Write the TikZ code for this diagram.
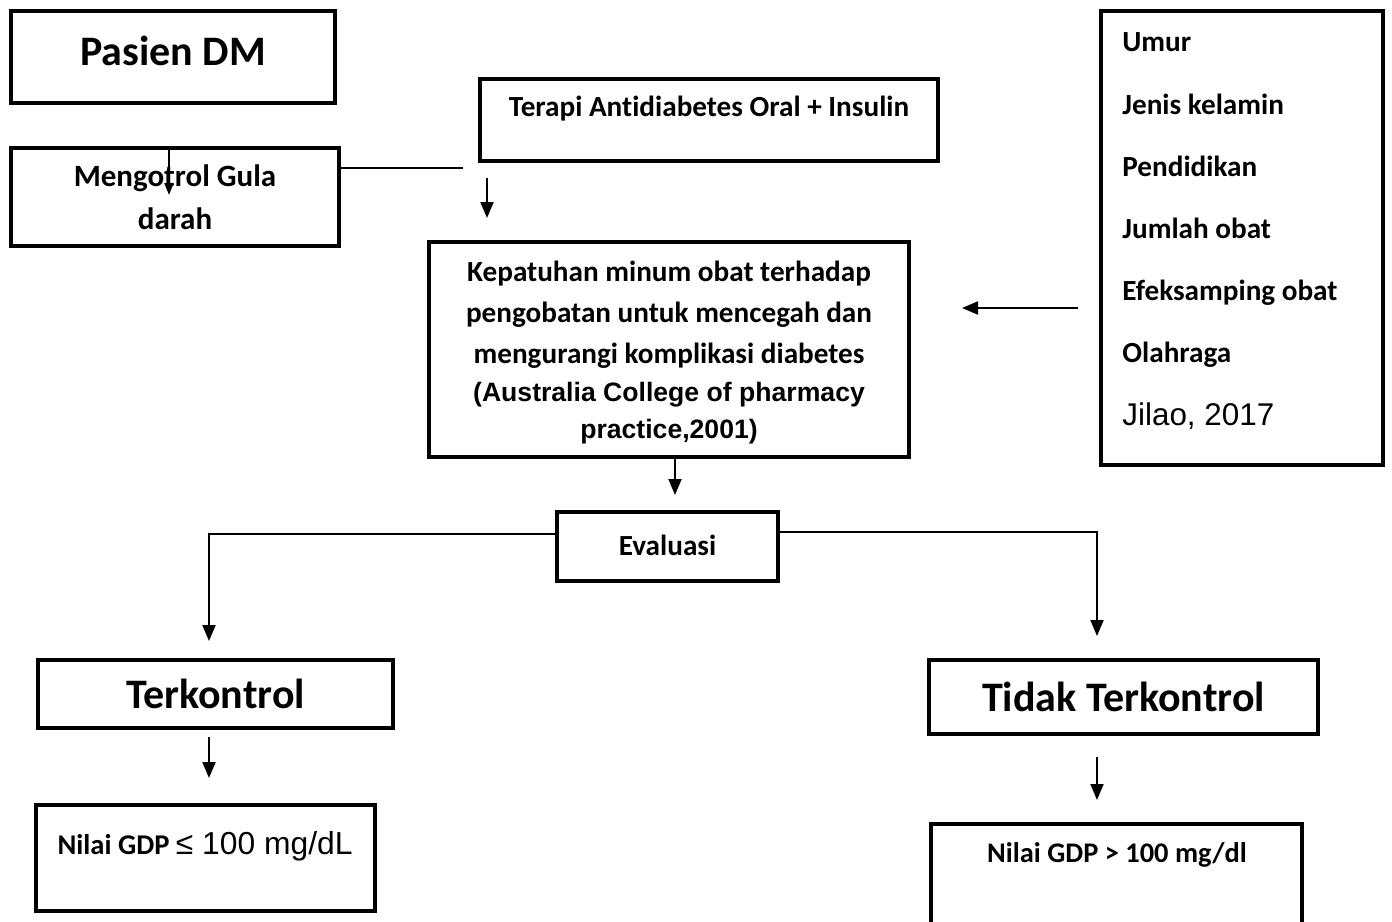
\documentclass[tikz,border=0pt]{standalone}
\usepackage{fontspec}
\setmainfont{Carlito}[Ligatures=NoCommon]
\newfontfamily\arialfont{Liberation Sans}
\usetikzlibrary{arrows.meta, positioning}
\tikzset{
	box/.style={draw, rectangle, line width=2pt, inner sep=0pt},
	txt/.style={inner sep=0pt, align=center, font=\bfseries\fontsize{14.6}{20.5}\selectfont},
	big/.style={font=\bfseries\fontsize{21}{25}\selectfont},
	arr/.style={line width=1pt, -{Triangle[width=6.5pt,length=8pt]}},
	ln/.style={line width=1pt},
}
\begin{document}
\begin{tikzpicture}[x=0.5pt, y=-0.5pt]
	\useasboundingbox (0,0) rectangle (1392,921);
	\clip (0,0) rectangle (1392,921);
	% top row
	\node (pasien) [box, minimum width=162pt, minimum height=46pt] at (173,57) {};
	\node (pasientxt) [txt, big] at (173,51) {Pasien DM};
	\node (mengotrol) [box, txt, minimum width=164pt, minimum height=49pt, font=\bfseries\fontsize{15.5}{21.5}\selectfont] at (175,197) {Mengotrol Gula\\darah};
	\node (terapi) [box, minimum width=229pt, minimum height=41pt] at (709,120) {};
	\node (terapitxt) [txt] at (709,109) {Terapi Antidiabetes Oral + Insulin};
	
	% middle
	\node (kepatuhan) [box, minimum width=240pt, minimum height=107.5pt] at (669,349.5) {};
	\node (kepatuhantxt) [txt] at (669,315) {Kepatuhan minum obat terhadap\\pengobatan untuk mencegah dan\\mengurangi komplikasi diabetes};
	\node (sumber) [txt, font=\arialfont\bfseries\fontsize{13.3}{18.5}\selectfont] at (669,413) {(Australia College of pharmacy\\practice,2001)};
	\node (faktor) [box, minimum width=141pt, minimum height=227pt] at (1242,238) {};
	\node (faktortxt) [txt, align=left, anchor=west, font=\bfseries\fontsize{14.6}{31.1}\selectfont] at (1122,231) {Umur\\Jenis kelamin\\Pendidikan\\Jumlah obat\\Efeksamping obat\\Olahraga\\{\arialfont\mdseries\fontsize{15.7}{31.1}\selectfont Jilao, 2017}};
	\node (evaluasi) [box, txt, minimum width=110.5pt, minimum height=34.5pt] at (667.5,546.5) {\raisebox{1pt}{Evaluasi}};
	
	% bottom row
	\node (terkontrol) [box, txt, big, minimum width=177.5pt, minimum height=34pt] at (215.5,694) {\raisebox{-2pt}{Terkontrol}};
	\node (tidak) [box, txt, big, minimum width=194.5pt, minimum height=37pt] at (1123.5,697) {Tidak Terkontrol};
	\node (gdpok) [box, minimum width=169.5pt, minimum height=53pt] at (205.5,858) {};
	\node (gdpoktxt) [txt, font=\bfseries\fontsize{14.3}{17}\selectfont] at (205,846) {Nilai GDP {\arialfont\mdseries\fontsize{15.9}{19}\selectfont ≤ 100 mg/dL}};
	\node (gdpno) [box, minimum width=185.5pt, minimum height=58pt] at (1116.5,882) {};
	\node (gdpnotxt) [txt, font=\bfseries\fontsize{14.2}{17}\selectfont] at (1117,855) {Nilai GDP > 100 mg/dl};
	
	% connectors
	\draw[arr, -{Triangle[width=4.5pt,length=6pt]}] ([xshift=-3pt,yshift=-2pt]mengotrol.north) -- ++(0,45);
	\draw[line width=0.6pt] ([yshift=14.5pt]mengotrol.east) -- ++(122,0);
	\draw[arr] ([xshift=4.5pt,yshift=-7.5pt]terapi.south west) -- ([xshift=30pt,yshift=11pt]kepatuhan.north west);
	\draw[arr] ([xshift=-10.5pt,yshift=-35pt]faktor.west) -- ([xshift=25.5pt,yshift=20.75pt]kepatuhan.east);
	\draw[arr] ([xshift=3pt]kepatuhan.south) -- ([xshift=3.75pt,yshift=7.5pt]evaluasi.north);
	\draw[arr] ([yshift=6.25pt]evaluasi.west) -| ([xshift=-3.25pt,yshift=8.5pt]terkontrol.north);
	\draw[arr] ([yshift=7.25pt]evaluasi.east) -| ([xshift=-13.25pt,yshift=11pt]tidak.north);
	\draw[arr] ([xshift=-3.25pt,yshift=-3.5pt]terkontrol.south) -- ([xshift=1.75pt,yshift=12.5pt]gdpok.north);
	\draw[arr] ([xshift=-13.25pt,yshift=-10.5pt]tidak.south) -- ([xshift=-9.75pt,yshift=11pt]gdpno.north);
\end{tikzpicture}
\end{document}
